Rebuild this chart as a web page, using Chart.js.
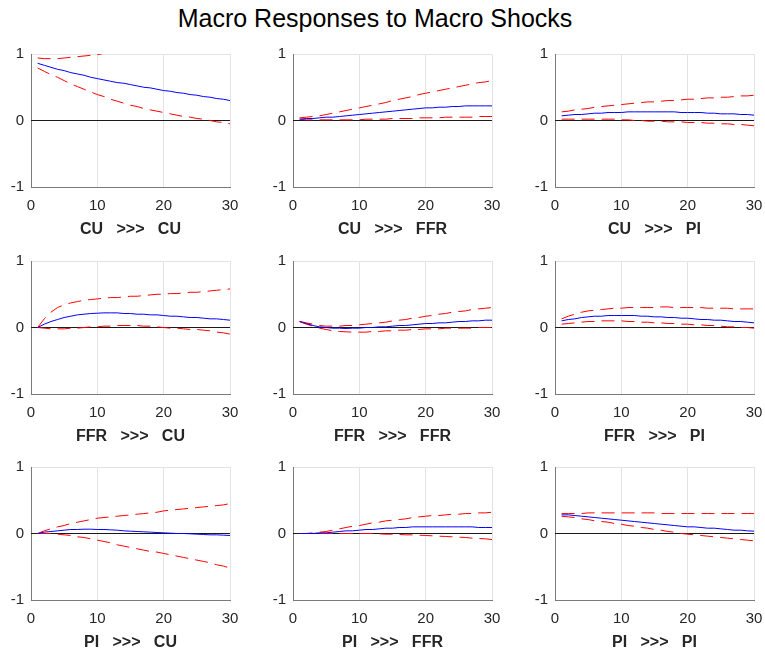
<!DOCTYPE html>
<html>
<head>
<meta charset="utf-8">
<script src="https://cdn.jsdelivr.net/npm/chart.js@4/dist/chart.umd.min.js"></script>
<style>
  html, body { margin: 0; padding: 0; background: #fff; }
  body { width: 765px; height: 649px; position: relative; overflow: hidden; }
  #title {
    position: absolute; left: 0; top: 3px; width: 750px;
    text-align: center; font: 25px/30px 'Liberation Sans', Arial, Helvetica, sans-serif;
    color: #000;
  }
  .panel { position: absolute; }
</style>
</head>
<body>
<div id="title">Macro Responses to Macro Shocks</div>

<script>
// Forecast horizons
const horizons = [1,2,3,4,5,6,7,8,9,10,11,12,13,14,15,16,17,18,19,20,21,22,23,24,25,26,27,28,29,30];

// Variable names and shock/response pairs (row = shock, column = response)
const variables = ['CU', 'FFR', 'PI'];

// Axis ticks
const xTicks = [0, 10, 20, 30];
const yTicks = [-1, 0, 1];

// CU shock -> CU
const cuCuMid = [0.86,0.83,0.80,0.77,0.75,0.72,0.70,0.68,0.65,0.63,0.61,0.59,0.57,0.56,0.54,0.52,0.50,0.49,0.47,0.45,0.44,0.42,0.41,0.39,0.38,0.36,0.35,0.33,0.32,0.30];
const cuCuUp  = [0.94,0.93,0.93,0.93,0.94,0.95,0.96,0.97,0.98,0.99,1.01,1.03,1.05,1.06,1.08,1.09,1.11,1.12,1.13,1.14,1.15,1.16,1.17,1.18,1.19,1.20,1.21,1.22,1.23,1.24];
const cuCuLo  = [0.79,0.74,0.69,0.65,0.60,0.55,0.51,0.47,0.43,0.39,0.36,0.32,0.29,0.26,0.23,0.21,0.18,0.16,0.14,0.12,0.10,0.08,0.06,0.05,0.03,0.02,0.00,-0.02,-0.03,-0.05];

// CU shock -> FFR
const cuFfrMid = [0.02,0.03,0.03,0.04,0.05,0.05,0.06,0.07,0.08,0.09,0.10,0.11,0.12,0.13,0.14,0.15,0.16,0.17,0.18,0.19,0.19,0.20,0.20,0.21,0.21,0.22,0.22,0.22,0.22,0.22];
const cuFfrUp  = [0.04,0.05,0.06,0.07,0.09,0.11,0.13,0.15,0.17,0.19,0.21,0.23,0.25,0.27,0.30,0.32,0.34,0.36,0.39,0.41,0.43,0.45,0.47,0.49,0.51,0.53,0.55,0.57,0.58,0.60];
const cuFfrLo  = [0.02,0.01,0.01,0.01,0.01,0.01,0.01,0.01,0.01,0.01,0.02,0.02,0.02,0.02,0.03,0.03,0.03,0.03,0.04,0.04,0.04,0.04,0.05,0.05,0.05,0.05,0.05,0.06,0.06,0.06];

// CU shock -> PI
const cuPiMid = [0.07,0.08,0.09,0.09,0.10,0.11,0.11,0.12,0.12,0.12,0.13,0.13,0.13,0.13,0.13,0.13,0.13,0.13,0.12,0.12,0.12,0.12,0.11,0.11,0.10,0.10,0.10,0.09,0.09,0.08];
const cuPiUp  = [0.13,0.14,0.16,0.17,0.18,0.20,0.21,0.22,0.23,0.24,0.25,0.26,0.27,0.28,0.28,0.29,0.30,0.30,0.31,0.32,0.32,0.33,0.34,0.34,0.35,0.35,0.36,0.37,0.37,0.38];
const cuPiLo  = [0.02,0.02,0.02,0.02,0.02,0.02,0.02,0.02,0.02,0.01,0.01,0.00,0.00,-0.01,-0.01,-0.01,-0.02,-0.02,-0.02,-0.03,-0.03,-0.03,-0.04,-0.04,-0.05,-0.05,-0.06,-0.06,-0.07,-0.08];

// FFR shock -> CU
const ffrCuMid = [0.00,0.05,0.09,0.12,0.15,0.17,0.19,0.20,0.21,0.215,0.22,0.22,0.22,0.21,0.21,0.20,0.20,0.19,0.19,0.18,0.17,0.17,0.16,0.15,0.15,0.14,0.13,0.13,0.12,0.11];
const ffrCuUp  = [0.00,0.13,0.23,0.30,0.34,0.37,0.39,0.41,0.42,0.43,0.44,0.45,0.45,0.46,0.47,0.47,0.48,0.49,0.50,0.50,0.51,0.51,0.52,0.53,0.53,0.54,0.55,0.56,0.57,0.58];
const ffrCuLo  = [0.00,-0.01,-0.02,-0.02,-0.02,-0.01,-0.01,0.00,0.01,0.01,0.02,0.02,0.03,0.03,0.03,0.03,0.02,0.02,0.01,0.00,-0.01,-0.01,-0.02,-0.03,-0.03,-0.04,-0.05,-0.07,-0.08,-0.10];

// FFR shock -> FFR
const ffrFfrMid = [0.09,0.06,0.03,0.01,0.00,-0.01,-0.01,-0.015,-0.01,-0.01,0.00,0.00,0.01,0.01,0.02,0.03,0.03,0.04,0.05,0.06,0.06,0.07,0.07,0.08,0.09,0.09,0.10,0.10,0.11,0.11];
const ffrFfrUp  = [0.09,0.07,0.05,0.03,0.02,0.02,0.02,0.03,0.03,0.04,0.05,0.06,0.07,0.08,0.10,0.11,0.12,0.14,0.15,0.17,0.18,0.20,0.21,0.23,0.24,0.25,0.27,0.28,0.29,0.30];
const ffrFfrLo  = [0.09,0.05,0.02,-0.01,-0.03,-0.05,-0.06,-0.065,-0.07,-0.07,-0.07,-0.06,-0.06,-0.05,-0.05,-0.04,-0.04,-0.03,-0.03,-0.02,-0.02,-0.02,-0.01,-0.01,-0.01,-0.01,-0.01,0.00,0.00,0.00];

// FFR shock -> PI
const ffrPiMid = [0.10,0.12,0.13,0.15,0.16,0.17,0.17,0.18,0.18,0.18,0.18,0.18,0.17,0.17,0.16,0.16,0.15,0.15,0.14,0.14,0.13,0.12,0.12,0.11,0.11,0.10,0.09,0.09,0.08,0.07];
const ffrPiUp  = [0.13,0.17,0.20,0.23,0.25,0.26,0.27,0.28,0.29,0.29,0.30,0.30,0.30,0.30,0.30,0.31,0.31,0.30,0.30,0.30,0.30,0.30,0.29,0.29,0.29,0.29,0.28,0.28,0.28,0.28];
const ffrPiLo  = [0.05,0.06,0.07,0.08,0.09,0.09,0.10,0.10,0.10,0.10,0.09,0.09,0.08,0.08,0.07,0.07,0.06,0.06,0.05,0.05,0.04,0.04,0.03,0.03,0.02,0.01,0.01,0.00,0.00,-0.01];

// PI shock -> CU
const piCuMid = [0.00,0.02,0.03,0.04,0.05,0.06,0.06,0.065,0.065,0.06,0.06,0.055,0.05,0.04,0.035,0.03,0.025,0.02,0.015,0.01,0.005,0.00,0.00,-0.005,-0.01,-0.015,-0.02,-0.02,-0.025,-0.03];
const piCuUp  = [0.00,0.04,0.07,0.10,0.12,0.15,0.17,0.19,0.21,0.23,0.24,0.25,0.26,0.27,0.28,0.29,0.30,0.31,0.32,0.34,0.35,0.36,0.37,0.38,0.39,0.40,0.41,0.42,0.43,0.45];
const piCuLo  = [0.00,0.00,0.00,-0.01,-0.02,-0.03,-0.05,-0.06,-0.08,-0.10,-0.12,-0.14,-0.17,-0.19,-0.21,-0.23,-0.25,-0.27,-0.28,-0.30,-0.32,-0.34,-0.36,-0.38,-0.40,-0.42,-0.44,-0.47,-0.49,-0.52];

// PI shock -> FFR
const piFfrMid = [0.00,0.00,0.00,0.01,0.01,0.02,0.03,0.04,0.04,0.05,0.06,0.06,0.07,0.08,0.08,0.09,0.09,0.10,0.10,0.10,0.10,0.10,0.10,0.10,0.10,0.10,0.10,0.09,0.09,0.09];
const piFfrUp  = [0.00,0.00,0.01,0.02,0.03,0.05,0.07,0.09,0.11,0.12,0.14,0.16,0.17,0.19,0.20,0.21,0.22,0.24,0.25,0.26,0.27,0.27,0.28,0.29,0.29,0.30,0.30,0.31,0.31,0.32];
const piFfrLo  = [0.00,0.00,0.00,0.00,0.00,0.00,0.00,0.00,0.00,0.00,0.00,0.00,-0.005,-0.01,-0.01,-0.015,-0.02,-0.02,-0.025,-0.03,-0.035,-0.04,-0.045,-0.05,-0.055,-0.06,-0.07,-0.075,-0.08,-0.09];

// PI shock -> PI
const piPiMid = [0.28,0.28,0.27,0.26,0.25,0.24,0.23,0.22,0.21,0.20,0.19,0.18,0.17,0.16,0.15,0.14,0.13,0.12,0.11,0.10,0.10,0.09,0.08,0.08,0.07,0.06,0.05,0.05,0.04,0.035];
const piPiUp  = [0.30,0.30,0.30,0.30,0.31,0.31,0.31,0.31,0.31,0.31,0.31,0.31,0.31,0.31,0.31,0.30,0.30,0.30,0.30,0.30,0.30,0.30,0.30,0.30,0.30,0.30,0.30,0.30,0.30,0.30];
const piPiLo  = [0.26,0.25,0.24,0.22,0.21,0.19,0.18,0.17,0.15,0.14,0.12,0.11,0.09,0.08,0.06,0.05,0.03,0.02,0.00,-0.01,-0.02,-0.03,-0.04,-0.05,-0.06,-0.07,-0.08,-0.09,-0.10,-0.11];

// Panels in row-major order: [shock index, response index, median, upper, lower]
const panels = [
  [0, 0, cuCuMid, cuCuUp, cuCuLo],
  [0, 1, cuFfrMid, cuFfrUp, cuFfrLo],
  [0, 2, cuPiMid, cuPiUp, cuPiLo],
  [1, 0, ffrCuMid, ffrCuUp, ffrCuLo],
  [1, 1, ffrFfrMid, ffrFfrUp, ffrFfrLo],
  [1, 2, ffrPiMid, ffrPiUp, ffrPiLo],
  [2, 0, piCuMid, piCuUp, piCuLo],
  [2, 1, piFfrMid, piFfrUp, piFfrLo],
  [2, 2, piPiMid, piPiUp, piPiLo]
];

// Layout of the 3x3 grid (plot-area corners in page pixels)
const colLeft = [31, 293, 555];
const rowTop = [50, 257, 463];
const PLOT_W = 199, PLOT_H = 137;
const AXIS_W = 40, PAD_TOP = 12, PAD_RIGHT = 22, AXIS_H = 52;

const FONT = "'Liberation Sans', Arial, Helvetica, sans-serif";
const TEXT = '#262626';

function toPoints(vals) {
  return vals.map((v, i) => ({ x: horizons[i], y: v }));
}

panels.forEach(([s, r, mid, up, lo], idx) => {
  const row = Math.floor(idx / 3), col = idx % 3;
  const canvas = document.createElement('canvas');
  canvas.className = 'panel';
  canvas.width = AXIS_W + PLOT_W + PAD_RIGHT;
  canvas.height = PAD_TOP + PLOT_H + AXIS_H;
  canvas.style.width = canvas.width + 'px';
  canvas.style.height = canvas.height + 'px';
  canvas.style.left = (colLeft[col] - AXIS_W) + 'px';
  canvas.style.top = (rowTop[row] - PAD_TOP) + 'px';
  document.body.appendChild(canvas);

  const label = variables[s] + '   >>>   ' + variables[r];

  new Chart(canvas, {
    type: 'line',
    data: {
      datasets: [
        { data: toPoints(mid), borderColor: '#0000ff', borderWidth: 1 },
        { data: toPoints(up), borderColor: '#ff0000', borderWidth: 1, borderDash: [13, 7] },
        { data: toPoints(lo), borderColor: '#ff0000', borderWidth: 1, borderDash: [13, 7] },
        { data: [{ x: xTicks[0], y: 0 }, { x: xTicks[xTicks.length - 1], y: 0 }], borderColor: '#1a1a1a', borderWidth: 1 }
      ]
    },
    options: {
      responsive: false,
      maintainAspectRatio: false,
      animation: false,
      devicePixelRatio: 1,
      layout: { padding: { top: PAD_TOP, right: PAD_RIGHT, left: 0, bottom: 0 } },
      elements: { point: { radius: 0, hoverRadius: 0 }, line: { tension: 0 } },
      plugins: { legend: { display: false }, tooltip: { enabled: false }, title: { display: false } },
      events: [],
      scales: {
        x: {
          type: 'linear',
          min: xTicks[0], max: xTicks[xTicks.length - 1],
          afterBuildTicks: sc => { sc.ticks = xTicks.map(v => ({ value: v })); },
          afterFit: sc => { sc.height = AXIS_H; },
          ticks: { color: TEXT, font: { family: FONT, size: 15 }, padding: 10, maxRotation: 0 },
          grid: {
            drawTicks: false,
            color: ctx => (ctx.tick && ctx.tick.value === xTicks[0]) ? 'rgba(0,0,0,0)' : '#e3e3e3',
            lineWidth: 1
          },
          border: { display: true, color: '#7a7a7a', width: 1 },
          title: {
            display: true, text: label, color: TEXT,
            font: { family: FONT, size: 16, weight: 'bold' },
            padding: { top: 0, bottom: 0 }
          }
        },
        y: {
          min: yTicks[0], max: yTicks[yTicks.length - 1],
          afterBuildTicks: sc => { sc.ticks = yTicks.map(v => ({ value: v })); },
          afterFit: sc => { sc.width = AXIS_W; },
          ticks: { color: TEXT, font: { family: FONT, size: 15 }, padding: 7 },
          grid: {
            drawTicks: false,
            color: ctx => (ctx.tick && ctx.tick.value === yTicks[yTicks.length - 1]) ? '#e3e3e3' : 'rgba(0,0,0,0)',
            lineWidth: 1
          },
          border: { display: true, color: '#7a7a7a', width: 1 }
        }
      }
    }
  });
});
</script>
</body>
</html>
